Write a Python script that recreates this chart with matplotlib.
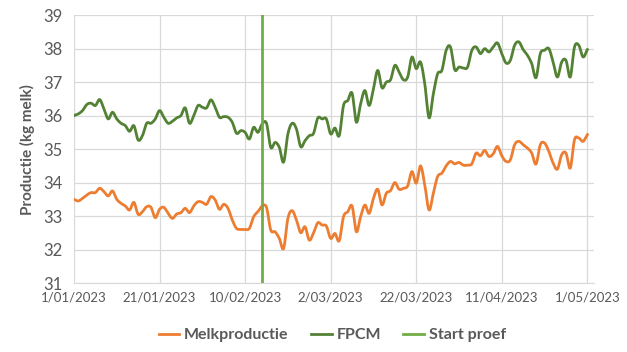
import numpy as np
import pandas as pd
import matplotlib
matplotlib.use('Agg')
import matplotlib.pyplot as plt
import matplotlib.dates as mdates

plt.rcParams['font.family'] = ['Lato', 'DejaVu Sans']

# dagelijkse waarden, 1/01/2023 t/m 1/05/2023
datums = pd.date_range('2023-01-01', '2023-05-01', freq='D')

melk = [33.50, 33.45, 33.53, 33.63, 33.70, 33.70, 33.83, 33.73, 33.60, 33.75,
        33.50, 33.38, 33.30, 33.18, 33.41, 33.05, 33.13, 33.28, 33.26, 32.95,
        33.20, 33.26, 33.08, 32.93, 33.06, 33.10, 33.23, 33.10, 33.30, 33.43,
        33.41, 33.35, 33.58, 33.48, 33.20, 33.35, 33.23, 32.88, 32.63, 32.60,
        32.60, 32.63, 32.98, 33.13, 33.30, 33.26, 32.58, 32.53, 32.33, 32.03,
        32.93, 33.16, 32.88, 32.50, 32.68, 32.28, 32.50, 32.80, 32.73, 32.70,
        32.33, 32.48, 32.26, 32.98, 33.13, 33.30, 32.53, 32.98, 33.33, 33.08,
        33.53, 33.80, 33.33, 33.68, 33.76, 34.00, 33.80, 33.83, 33.90, 34.33,
        33.98, 34.50, 33.93, 33.18, 33.68, 34.18, 34.28, 34.50, 34.63, 34.56,
        34.60, 34.52, 34.52, 34.56, 34.88, 34.80, 34.96, 34.78, 34.86, 35.08,
        34.80, 34.63, 34.68, 35.13, 35.23, 35.13, 35.03, 34.88, 34.55, 35.13,
        35.18, 34.93, 34.58, 34.40, 34.83, 34.88, 34.43, 35.28, 35.33, 35.23,
        35.43]

fpcm = [36.00, 36.05, 36.15, 36.33, 36.37, 36.30, 36.48, 36.20, 35.90, 36.10,
        35.90, 35.77, 35.70, 35.53, 35.70, 35.27, 35.40, 35.77, 35.77, 35.90,
        36.15, 35.95, 35.77, 35.83, 35.93, 36.00, 36.23, 35.77, 36.00, 36.30,
        36.25, 36.23, 36.47, 36.25, 35.95, 35.97, 35.95, 35.80, 35.47, 35.55,
        35.50, 35.30, 35.65, 35.50, 35.75, 35.77, 35.05, 35.20, 35.05, 34.61,
        35.45, 35.77, 35.60, 35.07, 35.25, 35.40, 35.47, 35.93, 35.90, 35.90,
        35.45, 35.63, 35.40, 36.30, 36.45, 36.67, 35.80, 36.35, 36.75, 36.30,
        36.80, 37.35, 36.83, 37.00, 37.07, 37.50, 37.30, 37.07, 37.15, 37.75,
        37.40, 37.60, 36.95, 35.93, 36.65, 37.25, 37.35, 37.95, 38.05, 37.37,
        37.45, 37.42, 37.45, 37.95, 38.05, 37.85, 38.00, 37.90, 38.05, 38.17,
        37.85, 37.57, 37.65, 38.10, 38.20, 37.97, 37.80, 37.55, 37.13, 37.85,
        37.95, 38.00, 37.60, 37.15, 37.60, 37.65, 37.15, 38.05, 38.10, 37.75,
        37.97]

start_proef = pd.Timestamp('2023-02-14')

grijs = '#595959'


def glad(x, y, n=8):
    # Catmull-Rom curve door de punten, zoals de 'vloeiende lijn' in Excel
    x = np.asarray(x, float)
    y = np.asarray(y, float)
    px = np.concatenate([[2 * x[0] - x[1]], x, [2 * x[-1] - x[-2]]])
    py = np.concatenate([[2 * y[0] - y[1]], y, [2 * y[-1] - y[-2]]])
    t = np.linspace(0, 1, n, endpoint=False)
    xs, ys = [], []
    for i in range(1, len(px) - 2):
        for p, out in ((px, xs), (py, ys)):
            p0, p1, p2, p3 = p[i - 1], p[i], p[i + 1], p[i + 2]
            out.append(0.5 * (2 * p1 + (-p0 + p2) * t
                              + (2 * p0 - 5 * p1 + 4 * p2 - p3) * t ** 2
                              + (-p0 + 3 * p1 - 3 * p2 + p3) * t ** 3))
    xs.append([x[-1]])
    ys.append([y[-1]])
    return np.concatenate(xs), np.concatenate(ys)


fig = plt.figure(figsize=(6.27, 3.52), dpi=100)
ax = fig.add_axes([0.118, 0.196, 0.829, 0.761])

xnum = mdates.date2num(datums)
ax.plot(*glad(xnum, melk), color='#ED7D31', lw=2, solid_joinstyle='round', label='Melkproductie')
ax.plot(*glad(xnum, fpcm), color='#548235', lw=2, solid_joinstyle='round', label='FPCM')
ax.axvline(start_proef, color='#70AD47', lw=2, label='Start proef')

ax.set_ylim(31, 39)
ax.set_yticks(range(31, 40))
ax.set_xlim(pd.Timestamp('2023-01-01'), pd.Timestamp('2023-05-02 12:00'))
ax.set_xticks(pd.date_range('2023-01-01', '2023-05-01', freq='20D'))
ax.xaxis.set_major_formatter(mdates.DateFormatter('%-d/%m/%Y'))

ax.grid(True, color='#d9d9d9', lw=0.9)
ax.set_axisbelow(True)
for s in ['top', 'right', 'left']:
    ax.spines[s].set_visible(False)
ax.spines['bottom'].set_color('#d9d9d9')
ax.tick_params(length=0, colors=grijs)
ax.tick_params(axis='y', labelsize=12, pad=8)
ax.tick_params(axis='x', labelsize=9.5, pad=6)

ax.set_ylabel('Productie (kg melk)', fontsize=11, fontweight='bold', color=grijs, labelpad=6)

fig.legend(loc='center', bbox_to_anchor=(0.53, 0.048), ncol=3, frameon=False,
           handlelength=1.3, handletextpad=0.3, columnspacing=1.4,
           prop={'size': 11.5, 'weight': 'bold'}, labelcolor=grijs)

fig.savefig('out.png', dpi=100)
